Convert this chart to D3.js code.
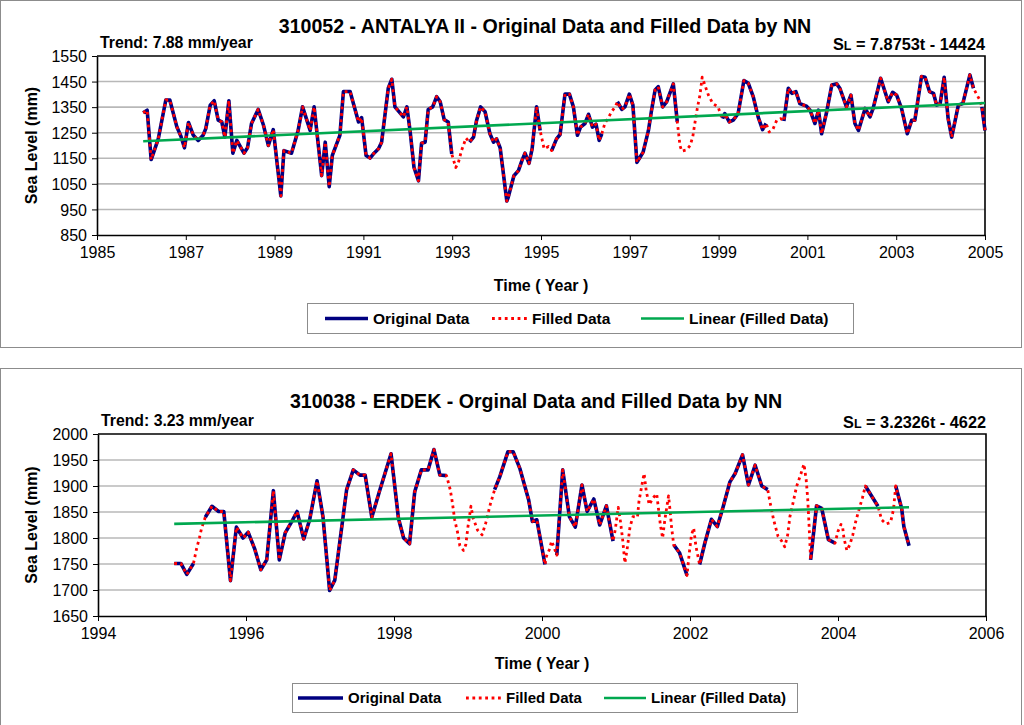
<!DOCTYPE html>
<html><head><meta charset="utf-8">
<script src="https://cdn.jsdelivr.net/npm/d3@7"></script>
<style>
body{margin:0;background:#fff}
svg{display:block}
text{font-family:"Liberation Sans",Arial,sans-serif;fill:#000}
</style>
</head><body>
<svg id="c" width="1024" height="725"></svg>
<script>
// ---------------- DATA ----------------
// 310052 - ANTALYA II (time in decimal years, sea level in mm)
const antalyaTime = [1986.04,1986.13,1986.22,1986.38,1986.55,1986.64,1986.80,1986.89,1986.97,1987.06,1987.17,1987.28,1987.39,1987.45,1987.55,1987.64,1987.73,1987.81,1987.88,1987.97,1988.06,1988.15,1988.31,1988.39,1988.48,1988.63,1988.75,1988.86,1988.97,1989.14,1989.21,1989.38,1989.53,1989.63,1989.80,1989.89,1990.06,1990.14,1990.23,1990.30,1990.47,1990.55,1990.70,1990.89,1990.96,1991.06,1991.15,1991.24,1991.34,1991.41,1991.56,1991.64,1991.71,1991.90,1991.98,1992.05,1992.14,1992.24,1992.31,1992.39,1992.46,1992.56,1992.65,1992.73,1992.82,1992.91,1992.99,1993.08,1993.14,1993.21,1993.31,1993.39,1993.48,1993.55,1993.64,1993.74,1993.85,1993.93,1994.00,1994.08,1994.23,1994.26,1994.39,1994.49,1994.57,1994.64,1994.73,1994.80,1994.90,1994.98,1995.07,1995.17,1995.24,1995.35,1995.43,1995.54,1995.64,1995.73,1995.82,1995.89,1995.99,1996.07,1996.16,1996.24,1996.31,1996.37,1996.44,1996.52,1996.59,1996.67,1996.72,1996.82,1996.89,1996.99,1997.07,1997.16,1997.23,1997.30,1997.42,1997.49,1997.57,1997.64,1997.74,1997.83,1997.98,1998.07,1998.13,1998.17,1998.28,1998.36,1998.42,1998.47,1998.52,1998.58,1998.63,1998.69,1998.77,1998.87,1998.99,1999.05,1999.09,1999.14,1999.24,1999.33,1999.44,1999.57,1999.67,1999.78,1999.89,1999.99,2000.07,2000.14,2000.22,2000.31,2000.40,2000.47,2000.57,2000.65,2000.74,2000.83,2000.98,2001.06,2001.17,2001.25,2001.32,2001.43,2001.55,2001.66,2001.73,2001.88,2001.98,2002.07,2002.15,2002.30,2002.41,2002.48,2002.65,2002.82,2002.92,2003.01,2003.12,2003.25,2003.35,2003.42,2003.57,2003.65,2003.75,2003.84,2003.91,2003.99,2004.08,2004.17,2004.25,2004.40,2004.50,2004.66,2004.74,2004.80,2004.87,2004.93,2005.00];
const antalyaLevel = [1328,1338,1145,1226,1378,1378,1272,1236,1191,1290,1240,1220,1240,1266,1358,1375,1299,1292,1233,1375,1170,1220,1170,1191,1286,1341,1279,1200,1262,1003,1180,1170,1259,1351,1259,1351,1082,1213,1039,1161,1240,1411,1411,1292,1309,1161,1151,1170,1187,1213,1424,1459,1351,1312,1351,1259,1114,1062,1209,1213,1341,1351,1391,1371,1301,1292,1167,1114,1134,1180,1229,1213,1233,1299,1351,1332,1246,1213,1226,1191,983,996,1082,1101,1141,1170,1130,1187,1351,1259,1187,1196,1180,1226,1243,1401,1401,1351,1240,1272,1286,1322,1272,1283,1220,1246,1288,1309,1332,1351,1371,1341,1351,1401,1358,1134,1154,1174,1259,1338,1417,1430,1351,1371,1441,1292,1200,1178,1183,1200,1236,1292,1345,1397,1467,1437,1397,1364,1351,1318,1305,1325,1292,1299,1325,1454,1443,1391,1312,1262,1286,1253,1262,1299,1305,1296,1424,1404,1411,1364,1354,1338,1286,1338,1246,1328,1437,1441,1424,1351,1397,1286,1259,1345,1312,1345,1463,1371,1408,1397,1345,1246,1299,1299,1470,1467,1411,1404,1358,1364,1467,1305,1233,1358,1364,1476,1424,1404,1382,1351,1259];
// periods where only NN-filled values exist (original missing strictly inside)
const antalyaGaps = [[1992.99,1993.39],[1994.98,1995.24],[1996.37,1996.72],[1998.07,1999.09],[2000.07,2000.47],[2004.74,2004.93]];
const antalyaTrend = [7.8753, -14424];
const antalyaYTicks = [850,950,1050,1150,1250,1350,1450,1550];
const antalyaXTicks = [1985,1987,1989,1991,1993,1995,1997,1999,2001,2003,2005];

// 310038 - ERDEK
const erdekTime = [1995.03,1995.12,1995.20,1995.29,1995.33,1995.37,1995.40,1995.45,1995.54,1995.63,1995.70,1995.79,1995.87,1995.96,1996.03,1996.12,1996.20,1996.28,1996.37,1996.45,1996.53,1996.62,1996.69,1996.78,1996.86,1996.96,1997.04,1997.13,1997.20,1997.36,1997.45,1997.54,1997.61,1997.70,1997.81,1997.96,1998.06,1998.13,1998.21,1998.28,1998.37,1998.46,1998.54,1998.62,1998.71,1998.76,1998.79,1998.82,1998.86,1998.89,1998.94,1998.97,1999.00,1999.04,1999.07,1999.13,1999.19,1999.24,1999.30,1999.36,1999.43,1999.54,1999.61,1999.70,1999.82,1999.87,1999.93,2000.04,2000.06,2000.10,2000.13,2000.16,2000.20,2000.28,2000.37,2000.45,2000.54,2000.61,2000.70,2000.78,2000.87,2000.96,2000.99,2001.03,2001.06,2001.09,2001.12,2001.15,2001.19,2001.23,2001.29,2001.31,2001.35,2001.38,2001.41,2001.45,2001.50,2001.55,2001.57,2001.60,2001.63,2001.66,2001.71,2001.73,2001.75,2001.78,2001.86,2001.96,2001.99,2002.02,2002.05,2002.08,2002.13,2002.20,2002.29,2002.37,2002.45,2002.54,2002.61,2002.71,2002.79,2002.88,2002.97,2003.05,2003.08,2003.13,2003.19,2003.24,2003.28,2003.32,2003.35,2003.39,2003.44,2003.50,2003.54,2003.57,2003.59,2003.61,2003.63,2003.71,2003.78,2003.87,2003.96,2004.00,2004.04,2004.06,2004.08,2004.12,2004.16,2004.20,2004.24,2004.29,2004.33,2004.37,2004.54,2004.59,2004.65,2004.71,2004.75,2004.78,2004.86,2004.89,2004.96];
const erdekLevel = [1751,1751,1730,1751,1778,1800,1819,1840,1861,1851,1851,1718,1821,1800,1811,1778,1739,1758,1891,1758,1810,1832,1851,1798,1835,1910,1841,1699,1719,1893,1931,1921,1921,1840,1893,1962,1838,1800,1789,1889,1931,1931,1970,1921,1920,1893,1867,1835,1810,1785,1776,1787,1822,1861,1838,1815,1806,1829,1864,1893,1918,1966,1966,1934,1873,1832,1835,1749,1765,1778,1794,1783,1767,1931,1841,1821,1902,1851,1875,1825,1862,1794,1816,1859,1832,1797,1752,1778,1822,1841,1840,1870,1902,1924,1889,1864,1877,1885,1861,1825,1800,1835,1881,1854,1822,1787,1771,1728,1771,1806,1819,1784,1749,1790,1836,1822,1861,1908,1924,1960,1902,1940,1900,1893,1870,1835,1803,1794,1783,1806,1841,1866,1899,1924,1942,1912,1877,1822,1758,1862,1857,1797,1790,1813,1826,1824,1800,1776,1787,1806,1832,1858,1877,1900,1861,1835,1827,1830,1855,1900,1857,1822,1785];
const erdekGaps = [[1995.29,1995.45],[1998.71,1999.36],[2000.04,2000.20],[2000.96,2001.78],[2001.96,2002.13],[2003.05,2003.63],[2003.96,2004.37],[2004.54,2004.78]];
const erdekTrend = [3.2326, -4622];
const erdekYTicks = [1650,1700,1750,1800,1850,1900,1950,2000];
const erdekXTicks = [1994,1996,1998,2000,2002,2004,2006];

const legendLabels = ["Original Data", "Filled Data", "Linear (Filled Data)"];

// ---------------- DRAWING ----------------
const svg = d3.select("#c");
const C_ORIG = "#000080", C_FILL = "#ff0000", C_TREND = "#00a84f", C_GRID = "#b8b8b8";

function drawChart(o) {
  const g = svg.append("g");
  g.append("rect").attr("x", 0.5).attr("y", o.panelY + 0.5).attr("width", 1021).attr("height", o.panelH)
    .attr("fill", "#fff").attr("stroke", "#8c8c8c").attr("stroke-width", 1);

  const x = d3.scaleLinear().domain(d3.extent(o.xTicks)).range([o.left, o.right]);
  const y = d3.scaleLinear().domain(d3.extent(o.yTicks)).range([o.bottom, o.top]);

  g.append("g").selectAll("line").data(o.yTicks.slice(1, -1)).join("line")
    .attr("x1", o.left).attr("x2", o.right).attr("y1", d => y(d)).attr("y2", d => y(d))
    .attr("stroke", C_GRID).attr("stroke-width", 1.6);

  g.append("path").attr("d", `M${o.left},${o.top}H${o.right}V${o.bottom}`)
    .attr("fill", "none").attr("stroke", "#000").attr("stroke-width", 1.6);

  const ax = g.append("g").attr("transform", `translate(0,${o.bottom})`)
    .call(d3.axisBottom(x).tickValues(o.xTicks).tickFormat(d3.format("d")).tickSizeOuter(0).tickSizeInner(5).tickPadding(6));
  const ay = g.append("g").attr("transform", `translate(${o.left},0)`)
    .call(d3.axisLeft(y).tickValues(o.yTicks).tickFormat(d3.format("d")).tickSizeOuter(0).tickSizeInner(5).tickPadding(5));
  [ax, ay].forEach(a => {
    a.select(".domain").attr("stroke", "#000").attr("stroke-width", 1.6);
    a.selectAll(".tick line").attr("stroke", "#000").attr("stroke-width", 1);
    a.selectAll(".tick text").attr("font-size", 16).attr("font-family", '"Liberation Sans",Arial,sans-serif').attr("fill", "#000");
  });
  ay.selectAll(".tick text").attr("dy", "0.35em");
  ax.selectAll(".tick text").attr("dy", "0.75em");

  const pts = o.time.map((t, i) => ({ t, v: o.level[i] }));
  const inGap = t => o.gaps.some(([a, b]) => t > a + 1e-6 && t < b - 1e-6);

  g.append("path").datum(pts)
    .attr("d", d3.line().defined(d => !inGap(d.t)).x(d => x(d.t)).y(d => y(d.v)))
    .attr("fill", "none").attr("stroke", C_ORIG).attr("stroke-width", 3.6).attr("stroke-linejoin", "round");
  g.append("path").datum(pts)
    .attr("d", d3.line().x(d => x(d.t)).y(d => y(d.v)))
    .attr("fill", "none").attr("stroke", C_FILL).attr("stroke-width", 2.8)
    .attr("stroke-dasharray", "2.8,3.6").attr("stroke-linejoin", "round");
  const t0 = o.time[0], t1 = o.time[o.time.length - 1];
  const f = t => o.trend[0] * t + o.trend[1];
  g.append("line").attr("x1", x(t0)).attr("x2", x(t1)).attr("y1", y(f(t0))).attr("y2", y(f(t1)))
    .attr("stroke", C_TREND).attr("stroke-width", 2.6);

  g.append("text").attr("x", o.titleX).attr("y", o.titleY).attr("text-anchor", "middle")
    .attr("font-size", 19.6).attr("font-weight", "bold").text(o.title);
  g.append("text").attr("x", o.left + 3).attr("y", o.subY).attr("font-size", 15.8).attr("font-weight", "bold").text(o.trendText);
  const sl = g.append("text").attr("x", o.right).attr("y", o.subY + 2).attr("text-anchor", "end")
    .attr("font-size", 16.3).attr("font-weight", "bold");
  sl.append("tspan").text("S");
  sl.append("tspan").attr("font-size", 12.5).text("L");
  sl.append("tspan").text(" = " + o.eqText);

  g.append("text").attr("x", (o.left + o.right) / 2).attr("y", o.xTitleY).attr("text-anchor", "middle")
    .attr("font-size", 16).attr("font-weight", "bold").text("Time ( Year )");
  g.append("text").attr("transform", `translate(37,${(o.top + o.bottom) / 2}) rotate(-90)`).attr("text-anchor", "middle")
    .attr("font-size", 16).attr("font-weight", "bold").text("Sea Level (mm)");

  const L = o.legend;
  g.append("rect").attr("x", L.x + 0.5).attr("y", L.y + 0.5).attr("width", L.w).attr("height", L.h)
    .attr("fill", "#fff").attr("stroke", "#8c8c8c").attr("stroke-width", 1);
  const cy = L.y + L.h / 2 + 0.5;
  const styles = [
    { stroke: C_ORIG, w: 3.6, dash: null },
    { stroke: C_FILL, w: 2.8, dash: "2.8,3.6" },
    { stroke: C_TREND, w: 2.6, dash: null }
  ];
  legendLabels.forEach((lab, i) => {
    const sx = L.items[i];
    g.append("line").attr("x1", sx).attr("x2", sx + L.lens[i]).attr("y1", cy).attr("y2", cy)
      .attr("stroke", styles[i].stroke).attr("stroke-width", styles[i].w)
      .attr("stroke-dasharray", styles[i].dash);
    g.append("text").attr("x", sx + L.lens[i] + 5).attr("y", cy + L.fs * 0.35).attr("font-size", L.fs)
      .attr("font-weight", "bold").text(lab);
  });
}

drawChart({
  panelY: 0, panelH: 347, left: 97, right: 985, top: 56, bottom: 235,
  time: antalyaTime, level: antalyaLevel, gaps: antalyaGaps, trend: antalyaTrend,
  xTicks: antalyaXTicks, yTicks: antalyaYTicks,
  title: "310052 - ANTALYA II - Original Data and Filled Data by NN", titleX: 545, titleY: 33,
  trendText: "Trend: 7.88 mm/year", eqText: "7.8753t - 14424", subY: 48, xTitleY: 291,
  legend: { x: 307, y: 303, w: 546, h: 30, items: [325, 492, 641], lens: [43, 35, 43], fs: 15.5 }
});
drawChart({
  panelY: 368, panelH: 360, left: 98, right: 986, top: 434, bottom: 616,
  time: erdekTime, level: erdekLevel, gaps: erdekGaps, trend: erdekTrend,
  xTicks: erdekXTicks, yTicks: erdekYTicks,
  title: "310038 - ERDEK - Orginal Data and Filled Data by NN", titleX: 536, titleY: 408,
  trendText: "Trend: 3.23 mm/year", eqText: "3.2326t - 4622", subY: 426, xTitleY: 669,
  legend: { x: 292, y: 683, w: 505, h: 29, items: [298, 466, 604], lens: [45, 35, 42], fs: 15 }
});
</script>
</body></html>
